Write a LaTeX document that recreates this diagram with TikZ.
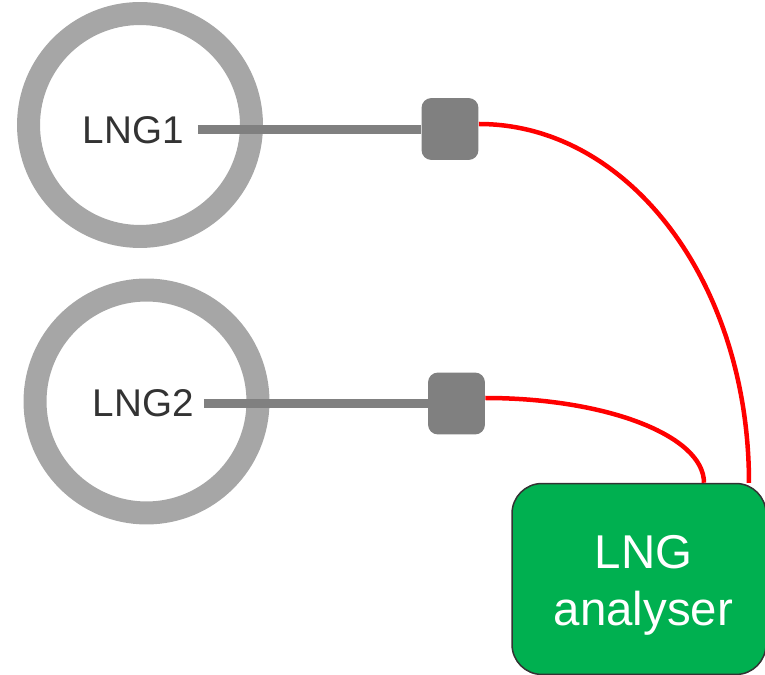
\documentclass[tikz,border=0pt]{standalone}
\usepackage{fontspec}
\setmainfont{Liberation Sans}
\usetikzlibrary{positioning}
\definecolor{tankgray}{HTML}{A6A6A6}
\definecolor{pipegray}{HTML}{808080}
\definecolor{labelgray}{HTML}{333333}
\definecolor{analysergreen}{HTML}{00B050}

\begin{document}
\begin{tikzpicture}[x=0.02cm,y=-0.02cm,
  tank/.style={circle,draw=tankgray,line width=0.46cm,minimum size=4.46cm,inner sep=0pt},
  tanklabel/.style={text=labelgray,font=\fontsize{22}{26}\selectfont,inner sep=0pt},
  probe/.style={rectangle,fill=pipegray,rounded corners=0.2cm,minimum width=1.14cm,minimum height=1.24cm,inner sep=0pt},
  pipe/.style={draw=pipegray,line width=0.18cm},
  signal/.style={draw=red,line width=0.09cm},
  analyser/.style={rectangle,rounded corners=0.6cm,fill=analysergreen,draw=labelgray,line width=0.03cm,minimum width=5.08cm,minimum height=3.82cm,text=white,align=center,font=\fontsize{27}{32.3}\selectfont}]
  \useasboundingbox (0,0) rectangle (765,675);
  %
  \node[tank] (tank1) at (140,125) {};
  \node[tank] (tank2) at (146.5,401.5) {};
  \node[tanklabel,anchor=east] (lng1) at (184,130) {LNG1};
  \node[tanklabel,anchor=east] (lng2) at (194,403.5) {LNG2};
  %
  \node[probe] (probe1) at (450,129) {};
  \node[probe] (probe2) at (456.5,403.5) {};
  %
  \node[analyser] (an) at (639,579) {};
  \node[analyser,draw=none,fill=none,anchor=north,minimum height=0pt,inner sep=0pt] (antext) at (643.5,535) {LNG\\analyser};
  \coordinate (in1) at ([xshift=2.2cm]an.north);
  \coordinate (in2) at ([xshift=1.3cm]an.north);
  %
  \draw[pipe] ([xshift=0.28cm]lng1.east) -- (lng1.east -| probe1.west);
  \draw[pipe] ([xshift=0.2cm]lng2.east) -- (lng2.east -| probe2.west);
  %
  \draw[signal] ([yshift=0.1cm]probe1.east) .. controls +(150,0) and +(0,-200) .. (in1);
  \draw[signal] ([yshift=0.11cm]probe2.east) .. controls +(121,0) and +(0,-47) .. (in2);
\end{tikzpicture}
\end{document}
